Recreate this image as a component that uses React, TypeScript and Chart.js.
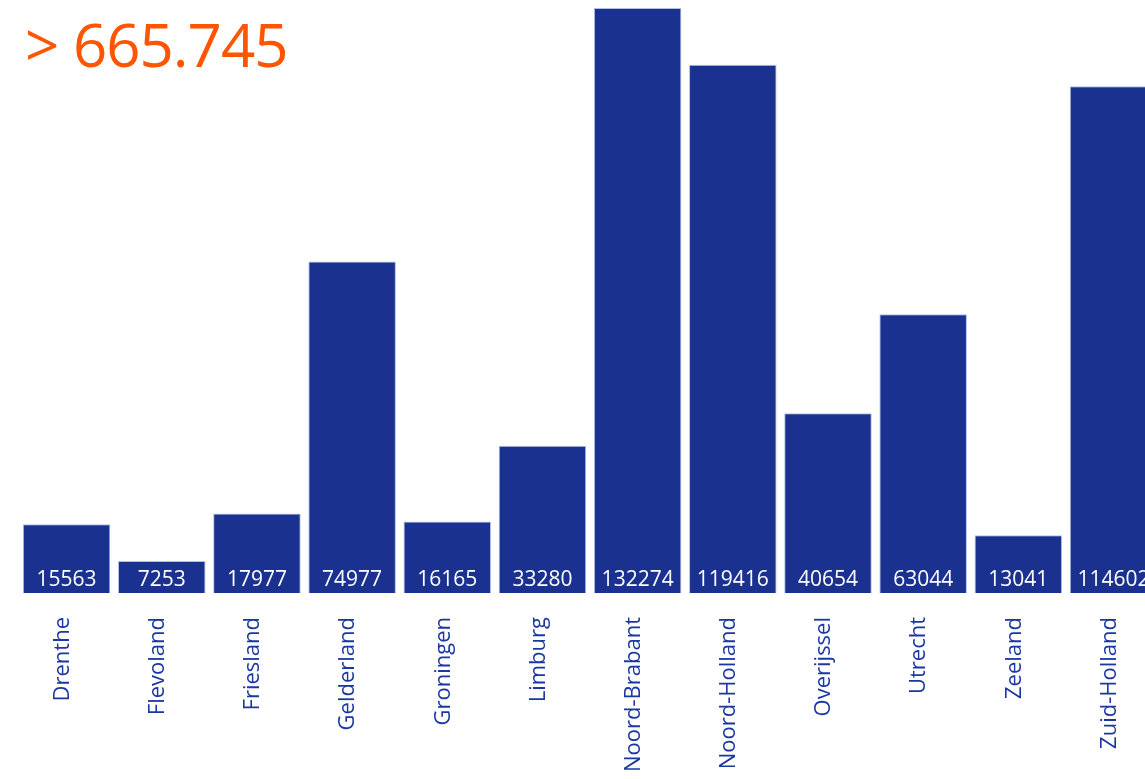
import React, { useEffect, useRef } from "react";
import { Chart, registerables } from "chart.js";

Chart.register(...registerables);

const categories = [
  "Drenthe",
  "Flevoland",
  "Friesland",
  "Gelderland",
  "Groningen",
  "Limburg",
  "Noord-Brabant",
  "Noord-Holland",
  "Overijssel",
  "Utrecht",
  "Zeeland",
  "Zuid-Holland",
];
const values = [15563, 7253, 17977, 74977, 16165, 33280, 132274, 119416, 40654, 63044, 13041, 114602];
const totalLabel = "> 665.745";

const BAR = "#1a318f";
const FONT = "'Open Sans', 'Noto Sans', sans-serif";

const valueLabels = {
  id: "valueLabels",
  afterDatasetsDraw(chart: any) {
    const ctx = chart.ctx;
    const meta = chart.getDatasetMeta(0);
    ctx.save();
    ctx.fillStyle = "#ffffff";
    ctx.font = `21px ${FONT}`;
    ctx.textAlign = "center";
    ctx.textBaseline = "alphabetic";
    meta.data.forEach((bar: any, i: number) => {
      ctx.fillText(String(values[i]), bar.x, bar.base - 7);
    });
    ctx.restore();
  },
};

export default function App() {
  const ref = useRef<HTMLCanvasElement>(null);
  useEffect(() => {
    const chart = new Chart(ref.current!, {
      type: "bar",
      data: {
        labels: categories,
        datasets: [
          {
            data: values,
            backgroundColor: BAR,
            borderColor: "rgba(170,185,230,0.9)",
            borderWidth: 1,
            barPercentage: 0.92,
            categoryPercentage: 1,
          },
        ],
      },
      options: {
        animation: false,
        responsive: true,
        maintainAspectRatio: false,
        layout: { padding: { left: 11, right: 2, top: 0, bottom: 0 } },
        plugins: { legend: { display: false }, tooltip: { enabled: false } },
        scales: {
          x: {
            grid: { display: false, drawTicks: false },
            border: { display: false },
            ticks: {
              color: "#1b37a2",
              font: { family: FONT, size: 22 },
              minRotation: 90,
              maxRotation: 90,
              padding: 24,
              labelOffset: -4,
              autoSkip: false,
            },
          },
          y: {
            display: false,
            min: 0,
            max: Math.max(...values),
          },
        },
      },
      plugins: [valueLabels],
    });
    return () => chart.destroy();
  }, []);
  return (
    <div
      style={{
        position: "fixed",
        left: 0,
        top: 0,
        width: 1145,
        height: 779,
        overflow: "hidden",
        background: "#fff",
      }}
    >
      <div style={{ position: "absolute", left: 8, top: 8, width: 1156, height: 788 }}>
        <canvas ref={ref} />
        <div
          style={{
            position: "absolute",
            left: 17,
            top: -4,
            color: "#ff5500",
            fontFamily: FONT,
            fontSize: 60,
            letterSpacing: "-1px",
            lineHeight: "80px",
            whiteSpace: "nowrap",
          }}
        >
          {totalLabel}
        </div>
      </div>
    </div>
  );
}
